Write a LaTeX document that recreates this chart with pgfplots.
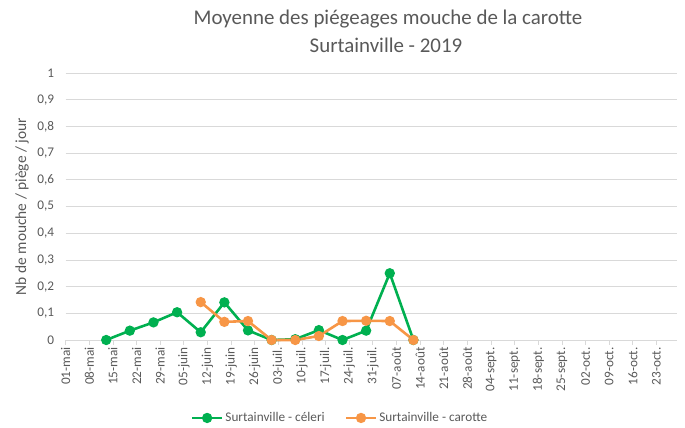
\documentclass[border=0pt]{standalone}
\usepackage{pgfplots}
\pgfplotsset{compat=1.18}
\usepackage{fontspec}
\setmainfont{Carlito}
\definecolor{cgreen}{HTML}{00B050}
\definecolor{corange}{HTML}{F79646}
\definecolor{txt}{HTML}{595959}
\definecolor{gridc}{HTML}{D9D9D9}
\begin{document}
\begin{tikzpicture}[x=1bp,y=1bp]
\useasboundingbox (0,0) rectangle (685,427);
\node[text=txt,font=\fontsize{21}{24}\selectfont] at (388,408) {Moyenne des piégeages mouche de la carotte};
\node[text=txt,font=\fontsize{21}{24}\selectfont] at (386,382) {Surtainville - 2019};
\begin{axis}[
  at={(65.7bp,87bp)}, anchor=south west,
  scale only axis, width=611bp, height=267bp,
  xmin=0, xmax=181, ymin=0, ymax=1,
  axis line style={draw=none},
  ytick={0,0.1,...,1.01},
  yticklabels={0,{0,1},{0,2},{0,3},{0,4},{0,5},{0,6},{0,7},{0,8},{0,9},1},
  ymajorgrids, grid style={gridc, line width=0.8pt},
  major tick length=0pt,
  xtick={0,7,...,175},
  xticklabels={01-mai,08-mai,15-mai,22-mai,29-mai,05-juin,12-juin,19-juin,26-juin,03-juil.,10-juil.,17-juil.,24-juil.,31-juil.,07-août,14-août,21-août,28-août,04-sept.,11-sept.,18-sept.,25-sept.,02-oct.,09-oct.,16-oct.,23-oct.},
  x tick label style={rotate=90, anchor=east, yshift=0pt, xshift=-4bp},
  tick label style={text=txt, font=\fontsize{13.3}{15}\selectfont},
  y tick label style={xshift=-8bp},
  ylabel={Nb de mouche / piège / jour},
  ylabel style={text=txt, font=\fontsize{15.5}{17}\selectfont, at={(axis description cs:-0.0715,0.5)}, anchor=center},
  legend columns=2,
  legend style={draw=none, fill=none, at={(0.449,-0.292)}, anchor=center, text=txt, font=\fontsize{13.3}{15}\selectfont, /tikz/every even column/.append style={column sep=18bp}},
  legend image code/.code={\draw[#1] (0bp,0bp) -- (30bp,0bp); \draw[#1, mark repeat=1] plot coordinates {(15bp,0bp)};},
  clip=false,
]
\draw[gridc, line width=0.8pt] (axis cs:0,0) -- (axis cs:181,0);
\pgfplotsinvokeforeach{0,7,...,175}{\draw[gridc, line width=0.8pt] (axis cs:#1,0) -- ++(0,-5bp);}
\addplot[cgreen, line width=2.6pt, mark=*, mark size=3.8bp, mark options={solid}] coordinates {
(12,0) (19,0.035) (26,0.066) (33,0.104) (40,0.029) (47,0.141) (54,0.036) (61,0) (68,0.003) (75,0.037) (82,0) (89,0.035) (96,0.25) (103,0)};
\addlegendentry{Surtainville - céleri}
\addplot[corange, line width=2.6pt, mark=*, mark size=3.8bp] coordinates {
(40,0.142) (47,0.068) (54,0.071) (61,0) (68,0) (75,0.015) (82,0.071) (89,0.072) (96,0.071) (103,0)};
\addlegendentry{Surtainville - carotte}
\end{axis}
\end{tikzpicture}
\end{document}
